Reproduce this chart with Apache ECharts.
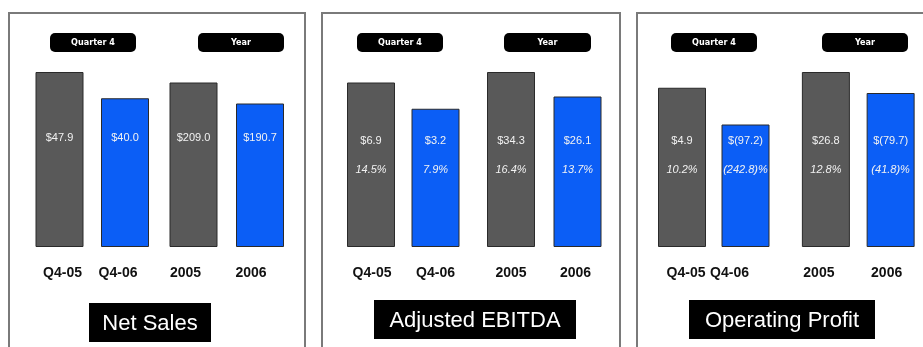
<!DOCTYPE html>
<html>
<head>
<meta charset="utf-8">
<script src="https://cdn.jsdelivr.net/npm/echarts@6/dist/echarts.min.js"></script>
<style>
html,body{margin:0;padding:0;background:#fff;}
#chart{width:923px;height:347px;}
</style>
</head>
<body>
<div id="chart"></div>
<script>
// ---- data ----
const quarterCats = ['Q4-05', 'Q4-06'];
const yearCats = ['2005', '2006'];
const panelTitles = ['Net Sales', 'Adjusted EBITDA', 'Operating Profit'];
const groupTitles = ['Quarter 4', 'Year'];

// values printed in the bars (Q4-05, Q4-06, 2005, 2006)
const netSalesValue = ['$47.9', '$40.0', '$209.0', '$190.7'];
const ebitdaValue = ['$6.9', '$3.2', '$34.3', '$26.1'];
const ebitdaMargin = ['14.5%', '7.9%', '16.4%', '13.7%'];
const opProfitValue = ['$4.9', '$(97.2)', '$26.8', '$(79.7)'];
const opProfitMargin = ['10.2%', '(242.8)%', '12.8%', '(41.8)%'];

// relative bar heights as drawn (not to scale with the values), 0-100
const netSalesLevel = [100, 85, 94, 82];
const ebitdaLevel = [94, 79, 100, 86];
const opProfitLevel = [91, 70, 100, 88];

// ---- chart ----
const GRAY = '#595959', BLUE = '#0b5ef6';
const FONT = 'Liberation Sans, Arial, sans-serif';
const panels = [
  { level: netSalesLevel, value: netSalesValue, margin: null,
    labelShift: [3, -7, -8, -9],
    grids: [{ left: 26.75, width: 131 }, { left: 160.25, width: 133 }] },
  { level: ebitdaLevel, value: ebitdaValue, margin: ebitdaMargin,
    labelShift: [1, 0, 0, -2],
    grids: [{ left: 338.75, width: 129 }, { left: 477.75, width: 133 }] },
  { level: opProfitLevel, value: opProfitValue, margin: opProfitMargin,
    labelShift: [4, -16, -7, -4],
    grids: [{ left: 650.25, width: 127 }, { left: 793.5, width: 130 }] }
];

const grid = [], xAxis = [], yAxis = [], series = [];
panels.forEach((p, pi) => {
  [quarterCats, yearCats].forEach((cats, gi) => {
    const idx = grid.length;
    const off = gi * 2;
    grid.push({ left: p.grids[gi].left, width: p.grids[gi].width, top: 72, height: 175 });
    xAxis.push({
      type: 'category', gridIndex: idx,
      data: cats.map((c, i) => {
        const s = p.labelShift[off + i];
        return { value: c, textStyle: { padding: s >= 0 ? [0, 0, 0, 2 * s] : [0, -2 * s, 0, 0] } };
      }),
      axisLine: { show: false }, axisTick: { show: false },
      axisLabel: { margin: 19, color: '#111', fontSize: 14, fontWeight: 'bold', fontFamily: FONT }
    });
    yAxis.push({ type: 'value', gridIndex: idx, min: 0, max: 100, show: false,
      splitLine: { show: false } });
    series.push({
      type: 'bar', xAxisIndex: idx, yAxisIndex: idx, barWidth: 48,
      data: cats.map((c, i) => ({
        value: p.level[off + i],
        itemStyle: { color: i === 0 ? GRAY : BLUE, borderColor: '#2a2a2a', borderWidth: 1 }
      })),
      label: {
        show: true, position: 'insideBottom',
        distance: p.margin ? 63 : 102,
        formatter: (prm) => {
          const k = off + prm.dataIndex;
          return p.margin ? '{v|' + p.value[k] + '}\n{m|' + p.margin[k] + '}' : '{v|' + p.value[k] + '}';
        },
        rich: {
          v: { color: '#f2f2f2', fontSize: 11, lineHeight: p.margin ? 29 : 14, fontFamily: FONT },
          m: { color: '#f2f2f2', fontSize: 11, fontStyle: 'italic', lineHeight: 29, fontFamily: FONT }
        }
      },
      emphasis: { disabled: true }
    });
  });
});

// decorations: panel frames, group pills, title boxes
const frames = [
  [[9, 347], [9, 13], [305, 13], [305, 347]],
  [[322, 347], [322, 13], [620, 13], [620, 347]],
  [[637, 347], [637, 13], [923, 13]]
];
const pills = [[50, 86], [198, 86], [357, 86], [504, 87], [671, 86], [822, 86]];
const titleBoxes = [[89, 303, 122, 39], [374, 300, 202, 39], [689, 300, 186, 39]];
const graphic = [];
frames.forEach(pts => graphic.push({ type: 'polyline', shape: { points: pts },
  style: { stroke: '#7a7a7a', lineWidth: 2, fill: null }, silent: true }));
pills.forEach((pl, i) => {
  graphic.push({ type: 'rect', shape: { x: pl[0], y: 33, width: pl[1], height: 19, r: 5 },
    style: { fill: '#000' }, silent: true });
  graphic.push({ type: 'text', x: pl[0] + pl[1] / 2, y: 42.5,
    style: { text: groupTitles[i % 2], fill: '#fff', font: 'bold 9px "DejaVu Sans Condensed", "Liberation Sans", sans-serif',
      textAlign: 'center', textVerticalAlign: 'middle' }, silent: true });
});
titleBoxes.forEach((b, i) => {
  graphic.push({ type: 'rect', shape: { x: b[0], y: b[1], width: b[2], height: b[3] },
    style: { fill: '#000' }, silent: true });
  graphic.push({ type: 'text', x: b[0] + b[2] / 2, y: b[1] + b[3] / 2 + 1,
    style: { text: panelTitles[i], fill: '#fff', font: '22px "Liberation Sans", Arial, sans-serif',
      textAlign: 'center', textVerticalAlign: 'middle' }, silent: true });
});

const chart = echarts.init(document.getElementById('chart'), null, { renderer: 'canvas' });
chart.setOption({
  animation: false,
  backgroundColor: '#fff',
  grid, xAxis, yAxis, series, graphic
});
</script>
</body>
</html>
